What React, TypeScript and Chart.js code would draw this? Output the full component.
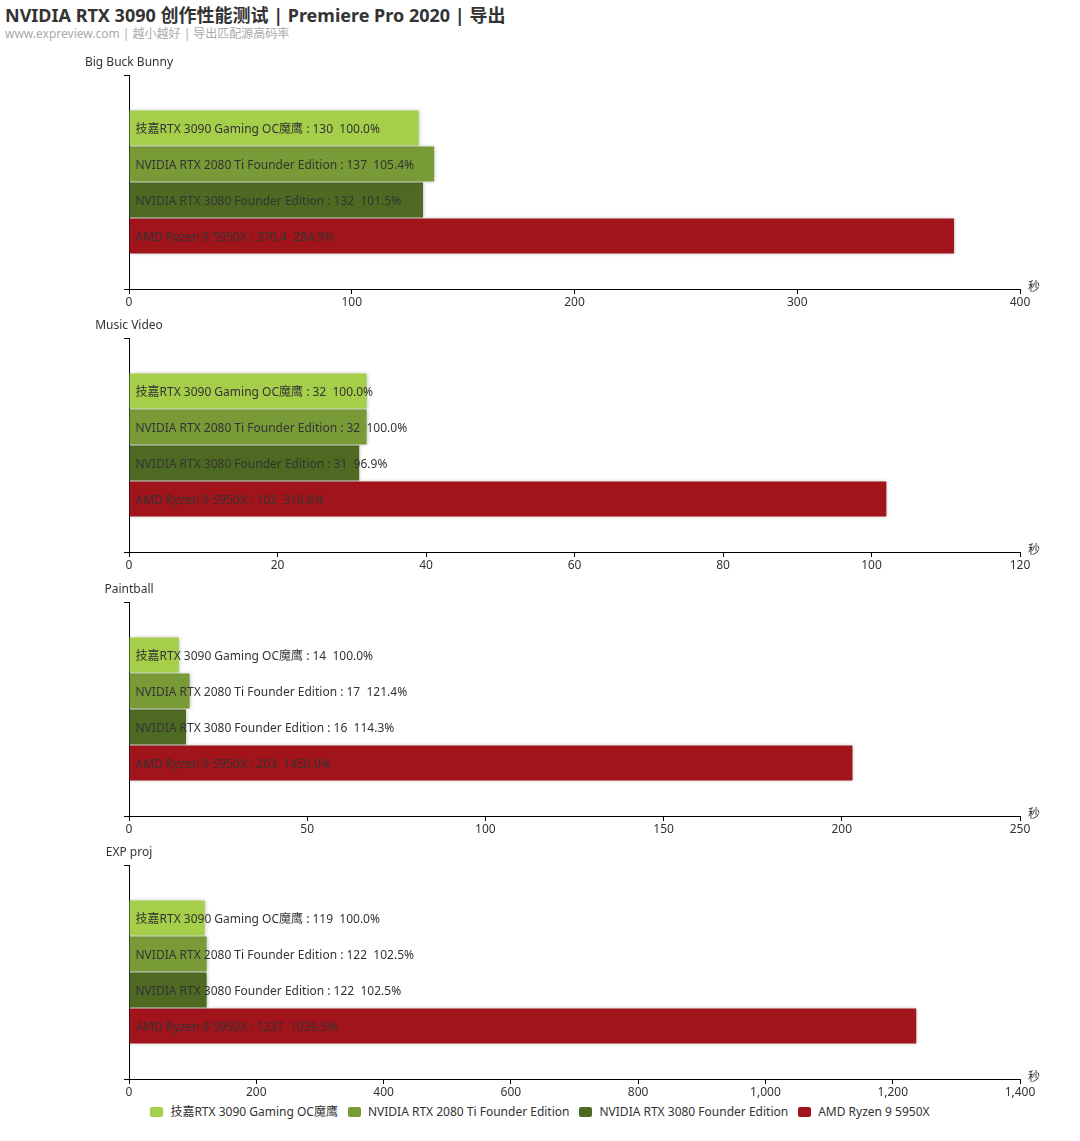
import React, { useEffect, useRef } from "react";
import { Chart, registerables } from "chart.js";

Chart.register(...registerables);

const seriesNames = [
  "技嘉RTX 3090 Gaming OC魔鹰",
  "NVIDIA RTX 2080 Ti Founder Edition",
  "NVIDIA RTX 3080 Founder Edition",
  "AMD Ryzen 9 5950X",
];
const seriesColors = ["#a5cf4a", "#789b37", "#4e6a22", "#a1141b"];

const testNames = ["Big Buck Bunny", "Music Video", "Paintball", "EXP proj"];

const bigBuckBunnyValues = [130, 137, 132, 370.4];
const bigBuckBunnyPercents = ["100.0%", "105.4%", "101.5%", "284.9%"];
const musicVideoValues = [32, 32, 31, 102];
const musicVideoPercents = ["100.0%", "100.0%", "96.9%", "318.8%"];
const paintballValues = [14, 17, 16, 203];
const paintballPercents = ["100.0%", "121.4%", "114.3%", "1450.0%"];
const expProjValues = [119, 122, 122, 1237];
const expProjPercents = ["100.0%", "102.5%", "102.5%", "1039.5%"];

const axisMax = [400, 120, 250, 1400];
const axisStep = [100, 20, 50, 200];
const axisUnit = "秒";

const allValues = [bigBuckBunnyValues, musicVideoValues, paintballValues, expProjValues];
const allPercents = [bigBuckBunnyPercents, musicVideoPercents, paintballPercents, expProjPercents];

const FONT = "'Noto Sans', 'Noto Sans CJK SC', sans-serif";

const decorPlugin = {
  id: "decor",
  beforeDatasetsDraw(chart: any) {
    const ctx = chart.ctx;
    ctx.save();
    ctx.shadowColor = "rgba(0,0,0,0.3)";
    ctx.shadowBlur = 4;
    ctx.shadowOffsetX = 0;
    ctx.shadowOffsetY = 0;
  },
  afterDatasetsDraw(chart: any, _args: any, opts: any) {
    const ctx = chart.ctx;
    ctx.restore();
    const { left, right, top, bottom } = chart.chartArea;
    ctx.save();
    ctx.font = `12px ${FONT}`;
    ctx.fillStyle = "#333";
    ctx.textBaseline = "middle";
    ctx.textAlign = "left";
    chart.data.datasets.forEach((ds: any, i: number) => {
      const meta = chart.getDatasetMeta(i);
      meta.data.forEach((el: any, j: number) => {
        const txt = `${ds.label} : ${ds.data[j]}  ${opts.percents[i]}`;
        ctx.fillText(txt, el.base + 6, el.y + 1.5);
      });
    });
    // axis name
    ctx.fillText(opts.unit, right + 8, bottom - 1);
    // subplot title
    ctx.textAlign = "center";
    ctx.fillText(opts.title, left, top - 12);
    ctx.restore();
  },
};

function makeConfig(idx: number): any {
  return {
    type: "bar",
    data: {
      labels: [""],
      datasets: seriesNames.map((name, i) => ({
        label: name,
        data: [allValues[idx][i]],
        backgroundColor: seriesColors[i],
        borderWidth: 0,
        categoryPercentage: 0.673,
        barPercentage: 0.97,
      })),
    },
    options: {
      indexAxis: "y",
      responsive: false,
      animation: false,
      devicePixelRatio: 1,
      layout: { padding: { left: 129, right: 60, top: 25, bottom: 3 } },
      plugins: {
        legend: { display: false },
        tooltip: { enabled: false },
        decor: { percents: allPercents[idx], unit: axisUnit, title: testNames[idx] },
      },
      scales: {
        y: {
          type: "category",
          offset: true,
          afterFit: (s: any) => {
            s.width = 0;
          },
          grid: { offset: true, drawOnChartArea: false, drawTicks: true, tickLength: 5, color: "#000" },
          border: { color: "#000", width: 1 },
          ticks: { display: false },
        },
        x: {
          type: "linear",
          min: 0,
          max: axisMax[idx],
          afterFit: (s: any) => {
            s.height = 21;
          },
          ticks: { stepSize: axisStep[idx], color: "#333", font: { size: 12, family: FONT }, padding: 1, maxRotation: 0, autoSkip: false },
          grid: { drawOnChartArea: false, drawTicks: true, tickLength: 5, color: "#000" },
          border: { color: "#000", width: 1 },
        },
      },
    },
    plugins: [decorPlugin],
  };
}

export default function App() {
  const refs = [useRef<HTMLCanvasElement>(null), useRef<HTMLCanvasElement>(null), useRef<HTMLCanvasElement>(null), useRef<HTMLCanvasElement>(null)];
  useEffect(() => {
    const charts = refs.map((r, i) => new Chart(r.current as HTMLCanvasElement, makeConfig(i)));
    return () => charts.forEach((c) => c.destroy());
  }, []);

  return (
    <div style={{ position: "absolute", left: 0, top: 0, width: 1080, height: 1141, background: "#fff", fontFamily: FONT, overflow: "hidden" }}>
      <div style={{ position: "absolute", left: 5, top: 2, fontSize: 18, fontWeight: "bold", color: "#333", lineHeight: "26px", whiteSpace: "nowrap" }}>
        NVIDIA RTX 3090 创作性能测试 | Premiere Pro 2020 | 导出
      </div>
      <div style={{ position: "absolute", left: 5, top: 26, fontSize: 12, color: "#aaa", lineHeight: "16px", whiteSpace: "nowrap" }}>
        www.expreview.com | 越小越好 | 导出匹配源高码率
      </div>
      {refs.map((r, i) => (
        <canvas
          key={i}
          ref={r}
          width={1080}
          height={263}
          style={{ position: "absolute", left: 0, top: Math.round(50 + i * 263.3), width: 1080, height: 263 }}
        />
      ))}
      <div
        style={{
          position: "absolute",
          left: 0,
          width: 1080,
          top: 1104,
          display: "flex",
          justifyContent: "center",
          alignItems: "center",
          fontSize: 12,
          color: "#333",
          lineHeight: "16px",
          whiteSpace: "nowrap",
        }}
      >
        {seriesNames.map((n, i) => (
          <div key={i} style={{ display: "flex", alignItems: "center", marginRight: i < seriesNames.length - 1 ? 10 : 0 }}>
            <span style={{ display: "inline-block", width: 13, height: 10, borderRadius: 2, background: seriesColors[i], marginRight: 7 }} />
            <span>{n}</span>
          </div>
        ))}
      </div>
    </div>
  );
}
